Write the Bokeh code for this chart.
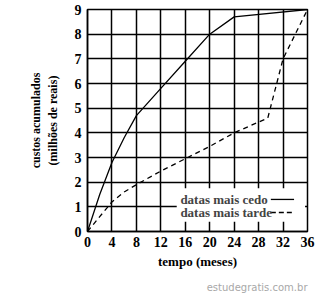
from bokeh.plotting import figure
from bokeh.models import Label, BoxAnnotation, FixedTicker, Range1d, Title
from bokeh.embed import file_html
from bokeh.resources import INLINE

# data
meses_cedo = [0, 2, 4, 6, 8, 12, 16, 20, 24, 36]
custo_cedo = [0, 1.5, 2.8, 3.8, 4.7, 5.8, 6.9, 8.0, 8.7, 9.0]
meses_tarde = [0, 2, 4, 6, 8, 12, 16, 20, 24, 29.5, 32, 36]
custo_tarde = [0, 0.6, 1.2, 1.6, 1.9, 2.45, 2.95, 3.45, 4.0, 4.6, 7.0, 9.0]
x_ticks = [0, 4, 8, 12, 16, 20, 24, 28, 32, 36]
y_ticks = [0, 1, 2, 3, 4, 5, 6, 7, 8, 9]
legend_labels = ["datas mais cedo", "datas mais tarde"]

SERIF = "Liberation Serif"

p = figure(width=336, height=301, output_backend="svg", toolbar_location=None,
           x_range=Range1d(0, 36), y_range=Range1d(0, 9),
           min_border_left=87, min_border_right=29, min_border_top=9, min_border_bottom=10)
p.background_fill_color = "white"
p.border_fill_color = "white"
p.outline_line_color = "black"
p.outline_line_width = 1.5

for ax in (p.xaxis[0], p.yaxis[0]):
    ax.major_tick_out = 0
    ax.major_tick_in = 0
    ax.minor_tick_out = 0
    ax.minor_tick_in = 0
    ax.axis_line_color = "black"
    ax.axis_line_width = 1.5
    ax.major_label_text_font = SERIF
    ax.major_label_text_font_style = "bold"
    ax.major_label_text_font_size = "14px"
    ax.major_label_text_color = "black"
    ax.axis_label_text_font = SERIF
    ax.axis_label_text_font_style = "bold"
    ax.axis_label_text_color = "black"

p.xaxis.ticker = FixedTicker(ticks=x_ticks)
p.yaxis.ticker = FixedTicker(ticks=y_ticks)
p.xaxis.major_label_standoff = 5
p.yaxis.major_label_standoff = 6
p.xaxis.axis_label = "tempo (meses)"
p.xaxis.axis_label_text_font_size = "13px"
p.xaxis.axis_label_standoff = 4
p.yaxis.axis_label = "custos acumulados\n(milhões de reais)"
p.yaxis.axis_label_text_font_size = "12px"
p.yaxis.axis_label_standoff = 12

p.xgrid.ticker = FixedTicker(ticks=x_ticks)
p.ygrid.ticker = FixedTicker(ticks=y_ticks)
for g in (p.xgrid[0], p.ygrid[0]):
    g.grid_line_color = "black"
    g.grid_line_width = 1.5
    g.grid_line_alpha = 1.0

p.line(meses_cedo, custo_cedo, line_color="black", line_width=1.3)
p.line(meses_tarde, custo_tarde, line_color="black", line_width=1.3, line_dash="5 4")

# legend box (drawn manually to mimic the original layout)
p.add_layout(BoxAnnotation(left=14.6, right=35.6, bottom=0.4, top=1.75,
                           fill_color="white", fill_alpha=1.0, line_alpha=0, level="glyph"))
for i, (lab, dash) in enumerate(zip(legend_labels, ["solid", "5 3"])):
    yy = 1.3 - i * 0.53
    p.add_layout(Label(x=15.2, y=yy, text=lab, text_font=SERIF, text_font_style="bold",
                       text_font_size="13px", text_baseline="middle", text_align="left",
                       level="overlay"))
    p.segment(x0=[30.0], y0=[yy], x1=[33.8], y1=[yy], line_color="black",
              line_width=1.3, line_dash=dash, level="overlay")

p.add_layout(Title(text="estudegratis.com.br", align="right", text_font="DejaVu Sans",
                   text_font_size="10px", text_font_style="normal", text_color="#a8a8a8",
                   standoff=17), "below")

open("out.html", "w").write(file_html(p, INLINE))
